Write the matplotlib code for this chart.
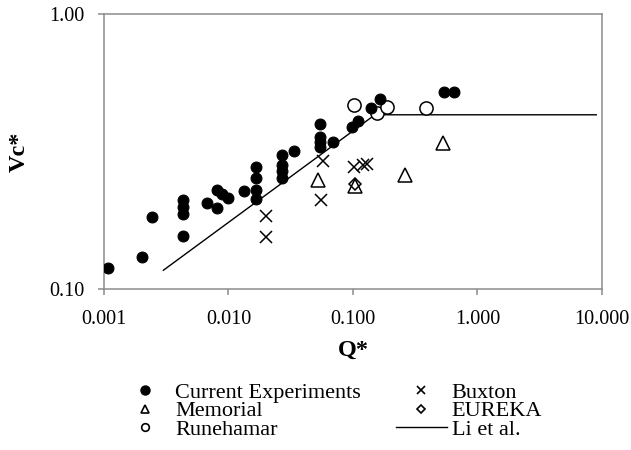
import matplotlib.pyplot as plt
from matplotlib.lines import Line2D
from matplotlib.ticker import FixedLocator, NullLocator

plt.rcParams['font.family'] = 'Liberation Serif'

# Current Experiments (filled circles)
cur_q = [0.00107, 0.00201, 0.00244, 0.00434, 0.00434, 0.00434, 0.00434,
         0.00668, 0.00804, 0.00804, 0.00891, 0.00996, 0.0133,
         0.0166, 0.0166, 0.0166, 0.0166,
         0.0267, 0.0267, 0.0267, 0.0267, 0.0338,
         0.0543, 0.0543, 0.0543, 0.0543, 0.0695,
         0.0976, 0.110, 0.139, 0.165, 0.538, 0.648]
cur_v = [0.119, 0.131, 0.183, 0.156, 0.188, 0.199, 0.211,
         0.206, 0.197, 0.229, 0.222, 0.214, 0.228,
         0.278, 0.253, 0.230, 0.212,
         0.307, 0.282, 0.268, 0.254, 0.318,
         0.398, 0.358, 0.343, 0.329, 0.343,
         0.389, 0.409, 0.454, 0.490, 0.522, 0.522]

# Memorial (open triangles)
mem_q = [0.0526, 0.104, 0.262, 0.525]
mem_v = [0.249, 0.236, 0.260, 0.339]

# Runehamar (open circles)
run_q = [0.101, 0.155, 0.186, 0.384]
run_v = [0.467, 0.435, 0.460, 0.454]

# Buxton (crosses)
bux_q = [0.020, 0.020, 0.0577, 0.0553, 0.101, 0.121, 0.129]
bux_v = [0.184, 0.154, 0.293, 0.211, 0.278, 0.282, 0.285]

# EUREKA (open diamonds)
eur_q = [0.104]
eur_v = [0.241]

# Li et al. correlation
li_q = [0.003, 0.15, 9.0]
li_v = [0.117, 0.43, 0.43]

x_ticks = [0.001, 0.01, 0.1, 1.0, 10.0]
x_labels = ['0.001', '0.010', '0.100', '1.000', '10.000']
y_ticks = [0.1, 1.0]
y_labels = ['0.10', '1.00']

fig = plt.figure(figsize=(6.31, 4.5), dpi=100)
ax = fig.add_axes([0.1648, 0.3578, 0.7892, 0.6111])

ax.plot(li_q, li_v, color='black', lw=1.0, zorder=1)
ax.plot(cur_q, cur_v, 'o', ms=7.8, mfc='black', mec='black', mew=0.8, ls='none', zorder=3)
ax.plot(mem_q, mem_v, '^', ms=9.5, mfc='none', mec='black', mew=1.1, ls='none', zorder=3)
ax.plot(run_q, run_v, 'o', ms=9.5, mfc='white', mec='black', mew=1.1, ls='none', zorder=2)
ax.plot(bux_q, bux_v, 'x', ms=9.0, mec='black', mew=1.1, ls='none', zorder=3)
ax.plot(eur_q, eur_v, 'D', ms=6.5, mfc='none', mec='black', mew=1.1, ls='none', zorder=3)

ax.set_xscale('log')
ax.set_yscale('log')
ax.set_xlim(0.001, 10)
ax.set_ylim(0.1, 1.0)
ax.xaxis.set_major_locator(FixedLocator(x_ticks))
ax.yaxis.set_major_locator(FixedLocator(y_ticks))
ax.xaxis.set_minor_locator(NullLocator())
ax.yaxis.set_minor_locator(NullLocator())
ax.set_xticklabels(x_labels)
ax.set_yticklabels(y_labels)

for s in ax.spines.values():
    s.set_color('#8c8c8c')
    s.set_linewidth(1.1)
ax.tick_params(axis='both', colors='#8c8c8c', labelcolor='black', labelsize=14.5,
               length=4, width=1.1)
ax.tick_params(axis='x', pad=11)
ax.tick_params(axis='y', pad=10)

ax.set_xlabel('Q*', fontsize=17.5, fontweight='bold', labelpad=8)
ax.set_ylabel('Vc*', fontsize=17.5, fontweight='bold', labelpad=14)

handles = [
    Line2D([], [], marker='o', ls='none', ms=6.5, mfc='black', mec='black'),
    Line2D([], [], marker='^', ls='none', ms=5.5, mfc='none', mec='black', mew=1.2),
    Line2D([], [], marker='o', ls='none', ms=5.5, mfc='none', mec='black', mew=1.2),
    Line2D([], [], marker='x', ls='none', ms=5.5, mec='black', mew=1.2),
    Line2D([], [], marker='D', ls='none', ms=4.5, mfc='none', mec='black', mew=1.2),
    Line2D([], [], color='black', lw=1.0),
]
labels = ['Current Experiments', 'Memorial', 'Runehamar', 'Buxton', 'EUREKA', 'Li et al.']
fig.legend(handles, labels, loc='upper left', bbox_to_anchor=(119 / 631, 1 - 382 / 450),
           ncol=2, frameon=False, fontsize=16, borderpad=0, borderaxespad=0,
           handlelength=2.3, handletextpad=0.22, columnspacing=1.57, labelspacing=-0.08)

fig.savefig('out.png', dpi=100)
